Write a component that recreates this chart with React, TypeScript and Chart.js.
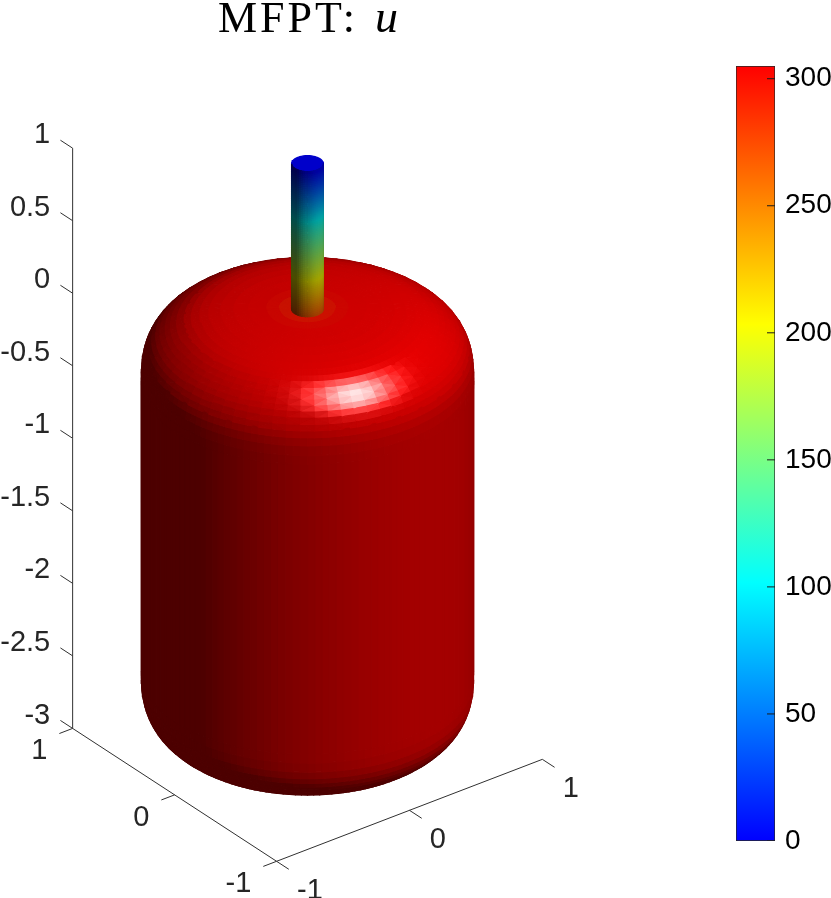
import React, { useEffect, useRef } from "react";
import { Chart, registerables } from "chart.js";

Chart.register(...registerables);

// ---- values ----
const xTicks = [-1, 0, 1];
const yTicks = [-1, 0, 1];
const zTicks = [1, 0.5, 0, -0.5, -1, -1.5, -2, -2.5, -3];
const zTickLabels = ["1", "0.5", "0", "-0.5", "-1", "-1.5", "-2", "-2.5", "-3"];
const colorbarTicks = [0, 50, 100, 150, 200, 250, 300];
const uMax = 305;
const viewAz = -37.5;
const viewEl = 30;
const lightDir = [0.12, -0.54, 0.79];
// cap profile of the body, from the neck at the stem to the straight wall
const capRadius = [0.1, 0.17, 0.2462, 0.354, 0.4437, 0.5224, 0.5931, 0.6471, 0.6988, 0.7412, 0.7873, 0.8247, 0.8558, 0.8877, 0.9133, 0.9377, 0.9565, 0.9728, 0.9855, 0.9948, 0.9994, 1];
const capHeight = [0.99967, 0.99837, 0.995, 0.985, 0.97, 0.95, 0.925, 0.9, 0.87, 0.84, 0.8, 0.76, 0.72, 0.67, 0.62, 0.56, 0.5, 0.43, 0.35, 0.25, 0.12, 0];
const capU = [292, 300, 304, 305, 305, 305, 305, 305, 305, 305, 305, 305, 305, 305, 305, 305, 305, 305, 305, 305, 305, 305];
// how steeply the surface faces upward, by radius, as the shading of the picture shows it
const slopeRadius = [0, 0.1, 0.3, 0.5, 0.65, 0.75, 0.8, 0.85, 0.9, 0.94, 0.97, 0.99, 1];
const slopeValue = [80, 40, 14, 6, 3, 1.55, 1.22, 1, 0.8, 0.55, 0.35, 0.12, 0];
const bodyRadius = 0.992;
const bodyTop = 0;
const bodyShoulder = -0.5;
const bodyFoot = -2.5;
const bodyBottom = -3;
const stemRadius = 0.095;
const stemZ = [1, 0.95, 0.9, 0.85, 0.8, 0.75, 0.7, 0.65, 0.6, 0.55, 0.5, 0.45, 0.4, 0.35, 0.3, 0.25, 0.2, 0.15, 0.1, 0.05, 0];
const stemU = [0, 14, 28, 43, 58, 73, 89, 104, 118, 131, 143, 155, 167, 179, 191, 203, 216, 228, 241, 254, 268];

// ---- view ----
const W = 831;
const H = 898;
const SCALE = 167.5;
const CX = 307.5;
const CY = 308.7;
const rad = Math.PI / 180;
const az = viewAz * rad;
const el = viewEl * rad;
const R = [Math.cos(az), Math.sin(az), 0];
const V = [Math.sin(az) * Math.cos(el), -Math.cos(az) * Math.cos(el), Math.sin(el)];
const cross = (a: number[], b: number[]) => [a[1] * b[2] - a[2] * b[1], a[2] * b[0] - a[0] * b[2], a[0] * b[1] - a[1] * b[0]];
const dot = (a: number[], b: number[]) => a[0] * b[0] + a[1] * b[1] + a[2] * b[2];
const norm = (a: number[]) => {
  const l = Math.hypot(a[0], a[1], a[2]) || 1;
  return [a[0] / l, a[1] / l, a[2] / l];
};
const U = cross(V, R);
const project = (p: number[]) => ({ x: dot(R, p), y: dot(U, p) });

const L = norm(lightDir);
const HALF = norm([L[0] + V[0], L[1] + V[1], L[2] + V[2]]);
const AMBIENT = 0.3;
const DIFFUSE = 0.6;
const SPECULAR = 0.9;
const SHININESS = 50;

function colormap(u: number) {
  const t = Math.max(0, Math.min(1, u / uMax)) * 3;
  if (t < 1) return [0, 255 * t, 255];
  if (t < 2) return [255 * (t - 1), 255, 255 * (2 - t)];
  return [255, 255 * (3 - t), 0];
}

function shade(u: number, n: number[]) {
  const base = colormap(u);
  const d = Math.max(0, dot(n, L));
  const s = d > 0 ? Math.pow(Math.max(0, dot(n, HALF)), SHININESS) : 0;
  const k = AMBIENT + DIFFUSE * d;
  const c = base.map((b) => Math.round(Math.min(255, b * k + 255 * SPECULAR * s)));
  return `rgb(${c[0]},${c[1]},${c[2]})`;
}

function slopeAt(q: number) {
  for (let i = 0; i < slopeRadius.length - 1; i++) {
    if (q <= slopeRadius[i + 1]) {
      const f = (q - slopeRadius[i]) / (slopeRadius[i + 1] - slopeRadius[i]);
      return slopeValue[i] + (slopeValue[i + 1] - slopeValue[i]) * f;
    }
  }
  return 0;
}

type Face = { pts: number[][]; u: number; n: number[]; cull: number[] };

function ringPoint(r: number, z: number, a: number) {
  return [r * Math.cos(a), r * Math.sin(a), z];
}

// soft shading normal of a face on the body, at the angle of its centre
function bodyFace(pts: number[][], u: number, rm: number, side: number, dz: number, dr: number): Face {
  const m = pts.reduce((s, p) => [s[0] + p[0], s[1] + p[1]], [0, 0]);
  const th = Math.atan2(m[1], m[0]);
  const q = Math.min(1, rm / bodyRadius);
  const n = norm([Math.cos(th), Math.sin(th), side * slopeAt(q)]);
  const c = norm([dz * Math.cos(th), dz * Math.sin(th), dr]);
  return { pts, u, n, cull: c };
}

function bodyFaces(): Face[] {
  const rings: { r: number; z: number; u: number; side: number }[] = [];
  capRadius.forEach((r, i) => rings.push({ r: r * bodyRadius, z: bodyShoulder + (bodyTop - bodyShoulder) * capHeight[i], u: capU[i], side: 1 }));
  for (let i = capRadius.length - 1; i >= 0; i--) {
    rings.push({ r: capRadius[i] * bodyRadius, z: bodyFoot + (bodyBottom - bodyFoot) * capHeight[i], u: uMax, side: -1 });
  }
  const faces: Face[] = [];
  for (let i = 0; i < rings.length - 1; i++) {
    const a = rings[i];
    const b = rings[i + 1];
    const dz = a.z - b.z;
    const dr = b.r - a.r;
    const rm = (a.r + b.r) / 2;
    const side = a.side === b.side ? a.side : 0;
    const coarse = side === 1 && rm > 0.72 && rm < 0.96;
    const seg = coarse ? 72 : 144;
    for (let j = 0; j < seg; j++) {
      const t0 = (j / seg) * 2 * Math.PI;
      const t1 = ((j + 1) / seg) * 2 * Math.PI;
      const p00 = ringPoint(a.r, a.z, t0);
      const p01 = ringPoint(a.r, a.z, t1);
      const p10 = ringPoint(b.r, b.z, t0);
      const p11 = ringPoint(b.r, b.z, t1);
      const u = (a.u + b.u) / 2;
      const make = (pts: number[][]) => bodyFace(pts, u, rm, side, dz, dr);
      if (!coarse) {
        faces.push(make([p00, p10, p11, p01]));
      } else if ((i + j) % 2 === 0) {
        faces.push(make([p00, p10, p11]), make([p00, p11, p01]));
      } else {
        faces.push(make([p00, p10, p01]), make([p01, p10, p11]));
      }
    }
  }
  return faces;
}

function stemFaces(): Face[] {
  const seg = 48;
  const split = 4;
  const faces: Face[] = [];
  for (let i = 0; i < stemZ.length - 1; i++) {
    for (let k = 0; k < split; k++) {
      const f0 = k / split;
      const f1 = (k + 1) / split;
      const z0 = stemZ[i] + (stemZ[i + 1] - stemZ[i]) * f0;
      const z1 = stemZ[i] + (stemZ[i + 1] - stemZ[i]) * f1;
      const u = stemU[i] + (stemU[i + 1] - stemU[i]) * (f0 + f1) * 0.5;
      for (let j = 0; j < seg; j++) {
        const t0 = (j / seg) * 2 * Math.PI;
        const t1 = ((j + 1) / seg) * 2 * Math.PI;
        const tm = (t0 + t1) / 2;
        const n = [Math.cos(tm), Math.sin(tm), 0];
        faces.push({
          pts: [ringPoint(stemRadius, z0, t0), ringPoint(stemRadius, z1, t0), ringPoint(stemRadius, z1, t1), ringPoint(stemRadius, z0, t1)],
          u,
          n,
          cull: n,
        });
      }
    }
  }
  const lid: number[][] = [];
  for (let j = 0; j < seg; j++) lid.push(ringPoint(stemRadius, stemZ[0], (j / seg) * 2 * Math.PI));
  faces.push({ pts: lid, u: stemU[0], n: [0, 0, 1], cull: [0, 0, 1] });
  return faces;
}

function surfaceDatasets(faces: Face[]) {
  const vis = faces
    .filter((f) => dot(f.cull, V) > -0.02)
    .map((f) => ({ f, depth: f.pts.reduce((s, p) => s + dot(V, p), 0) / f.pts.length }))
    .sort((a, b) => b.depth - a.depth); // nearest first: the first dataset is painted last
  return vis.map(({ f }) => {
    const color = shade(f.u, f.n);
    const data = f.pts.map(project);
    data.push(data[0]);
    return {
      type: "scatter" as const,
      showLine: true,
      data,
      fill: "shape",
      backgroundColor: color,
      borderColor: color,
      borderWidth: 1.3,
      borderJoinStyle: "round",
      pointRadius: 0,
      tension: 0,
      clip: false,
    };
  });
}

function segment(a: number[], b: number[], color = "#303030", width = 1) {
  return {
    type: "scatter" as const,
    showLine: true,
    data: [project(a), project(b)],
    borderColor: color,
    backgroundColor: color,
    borderWidth: width,
    pointRadius: 0,
    fill: false,
    clip: false,
  };
}

function axisDatasets() {
  const out: any[] = [];
  out.push(segment([-1, 1, zTicks[zTicks.length - 1]], [-1, 1, zTicks[0]]));
  out.push(segment([-1, yTicks[0], -3], [-1, yTicks[2], -3]));
  out.push(segment([xTicks[0], -1, -3], [xTicks[2], -1, -3]));
  zTicks.forEach((z) => out.push(segment([-1, 1, z], [-1, 1.12, z])));
  yTicks.forEach((y) => out.push(segment([-1, y, -3], [-1.1, y, -3])));
  xTicks.forEach((x) => out.push(segment([x, -1, -3], [x, -1.12, -3])));
  return out;
}

const AXIS_FONT = "29px 'Liberation Sans', Arial, sans-serif";

const textPlugin = {
  id: "axisText",
  afterDraw(chart: any) {
    const { ctx, scales } = chart;
    const put = (text: string, p: number[], align: CanvasTextAlign) => {
      const q = project(p);
      ctx.textAlign = align;
      ctx.fillText(text, scales.x.getPixelForValue(q.x), scales.y.getPixelForValue(q.y));
    };
    ctx.save();
    ctx.fillStyle = "#262626";
    ctx.font = AXIS_FONT;
    ctx.textBaseline = "middle";
    zTicks.forEach((z, i) => put(zTickLabels[i], [-1, 1.22, z - 0.012], "right"));
    yTicks.forEach((y) => put(String(y), [-1.19, y, -3.09], "right"));
    xTicks.forEach((x) => put(String(x), [x, -1.2, -3.11], "left"));
    ctx.fillStyle = "#000000";
    ctx.textBaseline = "alphabetic";
    ctx.textAlign = "left";
    ctx.font = "44px 'Liberation Serif', 'Times New Roman', serif";
    (ctx as any).letterSpacing = "3px";
    ctx.fillText("MFPT:", 218, 32);
    (ctx as any).letterSpacing = "0px";
    ctx.font = "italic 46px 'Liberation Serif', 'Times New Roman', serif";
    ctx.fillText("u", 375, 32);
    ctx.restore();
  },
};

export default function App() {
  const mainRef = useRef<HTMLCanvasElement>(null);
  const barRef = useRef<HTMLCanvasElement>(null);

  useEffect(() => {
    const stem = surfaceDatasets(stemFaces());
    const body = surfaceDatasets(bodyFaces());
    const main = new Chart(mainRef.current!, {
      type: "scatter",
      data: { datasets: [...stem, ...body, ...axisDatasets()] as any },
      options: {
        animation: false,
        responsive: false,
        events: [],
        layout: { padding: 0 },
        plugins: { legend: { display: false }, tooltip: { enabled: false } },
        scales: {
          x: { type: "linear", display: false, min: -CX / SCALE, max: (W - CX) / SCALE },
          y: { type: "linear", display: false, min: (CY - H) / SCALE, max: CY / SCALE },
        },
      } as any,
      plugins: [textPlugin],
    });

    const tickSets = colorbarTicks.map((t) => ({
      type: "line" as const,
      data: [{ x: 0.795, y: t }, { x: 1, y: t }],
      borderColor: "#1a1a1a",
      borderWidth: 1,
      pointRadius: 0,
      order: 0,
    }));
    const bar = new Chart(barRef.current!, {
      type: "bar",
      data: {
        datasets: [
          ...tickSets,
          {
            type: "bar" as const,
            data: [{ x: 0.5, y: [0, uMax] }],
            barThickness: 39,
            borderWidth: 1,
            borderColor: "#262626",
            borderSkipped: false,
            order: 1,
            backgroundColor: (c: any) => {
              const a = c.chart.chartArea;
              if (!a) return "#ff0000";
              const g = c.chart.ctx.createLinearGradient(0, a.bottom, 0, a.top);
              [0, 1, 2, 3].forEach((s) => {
                const [r, gg, b] = colormap((s / 3) * uMax);
                g.addColorStop(s / 3, `rgb(${r},${gg},${b})`);
              });
              return g;
            },
          },
        ] as any,
      },
      options: {
        animation: false,
        responsive: false,
        events: [],
        layout: { padding: { left: 16, top: 66, bottom: 57, right: 0 } },
        plugins: { legend: { display: false }, tooltip: { enabled: false } },
        scales: {
          x: { display: false, type: "linear", min: 0, max: 1, offset: false },
          y: {
            type: "linear",
            position: "right",
            min: 0,
            max: uMax,
            grid: { display: false, drawTicks: false },
            border: { display: false },
            afterFit: (s: any) => {
              s.width = 56;
            },
            ticks: {
              stepSize: 50,
              includeBounds: false,
              autoSkip: false,
              maxRotation: 0,
              padding: 10,
              color: "#000000",
              font: { family: "'Liberation Sans', Arial, sans-serif", size: 28 },
            },
          },
        },
      } as any,
    });
    return () => {
      main.destroy();
      bar.destroy();
    };
  }, []);

  return (
    <div style={{ position: "fixed", left: 0, top: 0, width: W, height: H, overflow: "hidden", background: "#fff" }}>
      <canvas ref={mainRef} width={W} height={H} style={{ position: "absolute", left: 0, top: 0, display: "block" }} />
      <canvas ref={barRef} width={111} height={H} style={{ position: "absolute", left: 720, top: 0, display: "block" }} />
    </div>
  );
}
